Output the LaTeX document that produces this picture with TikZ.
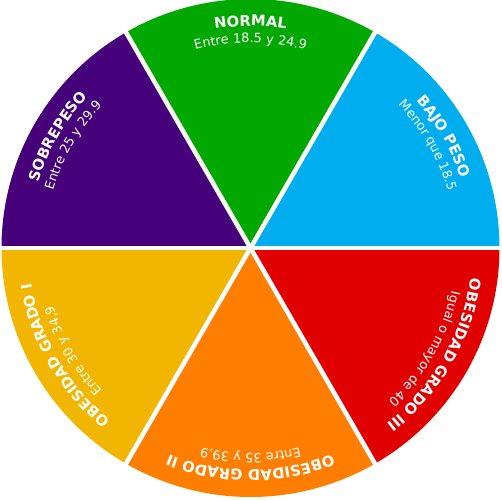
\documentclass[tikz,border=0pt]{standalone}
\usepackage{fontspec}
\setmainfont{DejaVu Sans}
\usetikzlibrary{decorations.text}
\definecolor{Normal}{HTML}{00A800}
\definecolor{Bajo}{HTML}{00AEEF}
\definecolor{ObesTres}{HTML}{E10000}
\definecolor{ObesDos}{HTML}{FF7E00}
\definecolor{ObesUno}{HTML}{F2B600}
\definecolor{Sobre}{HTML}{45007A}
\newcommand{\wheelhead}{\fontsize{8.4}{10}\selectfont\bfseries}
\newcommand{\wheelnote}{\fontsize{7.3}{9}\selectfont}

\tikzset{
  wedgeline/.style={white,line width=0.09cm},
  headarc/.style={decorate,decoration={text along path,text align=center,
                  text color=white,text={|\wheelhead|#1}}},
  notearc/.style={decorate,decoration={text along path,text align=center,
                  text color=white,text={|\wheelnote|#1}}},
}

\begin{document}
\begin{tikzpicture}
        \useasboundingbox (-5.01,-5.06) rectangle (5.03,4.96);
        % wedges
        \fill[Bajo]     (0,0) -- (0:4.98)   arc[start angle=0,end angle=60,radius=4.98] -- cycle;
        \fill[Normal]   (0,0) -- (60:4.98)  arc[start angle=60,end angle=120,radius=4.98] -- cycle;
        \fill[Sobre]    (0,0) -- (120:4.98) arc[start angle=120,end angle=180,radius=4.98] -- cycle;
        \fill[ObesUno]  (0,0) -- (180:4.98) arc[start angle=180,end angle=240,radius=4.98] -- cycle;
        \fill[ObesDos]  (0,0) -- (240:4.98) arc[start angle=240,end angle=300,radius=4.98] -- cycle;
        \fill[ObesTres] (0,0) -- (300:4.98) arc[start angle=300,end angle=360,radius=4.98] -- cycle;
        \coordinate (hub) at (0,0);
        \foreach \a in {0,60,...,300}
          \draw[wedgeline] (hub) -- (\a:5.1);
        % labels, read clockwise round the wheel
        \path[headarc={NORMAL}] (120:4.44) arc[start angle=120,end angle=60,radius=4.44];
        \path[notearc={Entre 18.5 y 24.9}] (120:4.11) arc[start angle=120,end angle=60,radius=4.11];
        \path[headarc={BAJO PESO}] (60:4.44) arc[start angle=60,end angle=0,radius=4.44];
        \path[notearc={Menor que 18.5}] (60:4.11) arc[start angle=60,end angle=0,radius=4.11];
        \path[headarc={OBESIDAD GRADO III}] (0:4.44) arc[start angle=0,end angle=-60,radius=4.44];
        \path[notearc={Igual o mayor de 40}] (0:4.11) arc[start angle=0,end angle=-60,radius=4.11];
        \path[headarc={OBESIDAD GRADO II}] (-60:4.44) arc[start angle=-60,end angle=-120,radius=4.44];
        \path[notearc={Entre 35 y 39,9}] (-60:4.11) arc[start angle=-60,end angle=-120,radius=4.11];
        \path[headarc={OBESIDAD GRADO I}] (-120:4.44) arc[start angle=-120,end angle=-180,radius=4.44];
        \path[notearc={Entre 30 y 34,9}] (-120:4.11) arc[start angle=-120,end angle=-180,radius=4.11];
        \path[headarc={SOBREPESO}] (180:4.44) arc[start angle=180,end angle=120,radius=4.44];
        \path[notearc={Entre 25 y 29.9}] (180:4.11) arc[start angle=180,end angle=120,radius=4.11];
\end{tikzpicture}
\end{document}
